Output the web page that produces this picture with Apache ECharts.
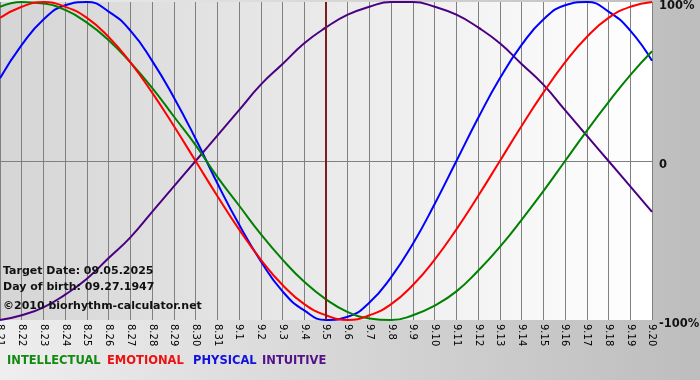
<!DOCTYPE html>
<html><head><meta charset="utf-8">
<script src="https://cdn.jsdelivr.net/npm/echarts@6/dist/echarts.min.js"></script>
<style>html,body{margin:0;padding:0;}#c{width:700px;height:380px;}</style>
</head><body><div id="c"></div>
<script>
var days = ['8.21','8.22','8.23','8.24','8.25','8.26','8.27','8.28','8.29','8.30','8.31','9.1','9.2','9.3','9.4','9.5','9.6','9.7','9.8','9.9','9.10','9.11','9.12','9.13','9.14','9.15','9.16','9.17','9.18','9.19','9.20'];
var intellectual = [0.97,1.00,0.99,0.95,0.87,0.76,0.62,0.46,0.28,0.10,-0.10,-0.28,-0.46,-0.62,-0.76,-0.87,-0.95,-0.99,-1.00,-0.97,-0.91,-0.82,-0.69,-0.54,-0.37,-0.19,0.00,0.19,0.37,0.54,0.69];
var emotional = [0.90,0.97,1.00,0.97,0.90,0.78,0.62,0.43,0.22,0.00,-0.22,-0.43,-0.62,-0.78,-0.90,-0.97,-1.00,-0.97,-0.90,-0.78,-0.62,-0.43,-0.22,0.00,0.22,0.43,0.62,0.78,0.90,0.97,1.00];
var physical = [0.52,0.73,0.89,0.98,1.00,0.94,0.82,0.63,0.40,0.14,-0.14,-0.40,-0.63,-0.82,-0.94,-1.00,-0.98,-0.89,-0.73,-0.52,-0.27,0.00,0.27,0.52,0.73,0.89,0.98,1.00,0.94,0.82,0.63];
var intuitive = [-1.00,-0.97,-0.92,-0.84,-0.74,-0.61,-0.48,-0.32,-0.16,0.00,0.16,0.32,0.48,0.61,0.74,0.84,0.92,0.97,1.00,1.00,0.97,0.92,0.84,0.74,0.61,0.48,0.32,0.16,0.00,-0.16,-0.32];
var targetDay = '9.5';
var infoLines = ['Target Date: 09.05.2025','Day of birth: 09.27.1947','\u00A92010 biorhythm-calculator.net'];
var legendNames = ['INTELLECTUAL','EMOTIONAL','PHYSICAL','INTUITIVE'];
var colors = ['#008000','#ff0000','#0000ff','#4b0082'];
var legendColors = ['#138a13','#ee1111','#1111dd','#551188'];

var chart = echarts.init(document.getElementById('c'));
var ff = '"DejaVu Sans", Verdana, sans-serif';
function mk(name, data, color) {
  return {name: name, type: 'line', data: data, smooth: 0.5, showSymbol: false,
    lineStyle: {color: color, width: 2}, itemStyle: {color: color}, z: 3};
}
var series = [
  mk(legendNames[3], intuitive, colors[3]),
  mk(legendNames[2], physical, colors[2]),
  mk(legendNames[0], intellectual, colors[0]),
  mk(legendNames[1], emotional, colors[1])
];
series[0].markLine = {silent: true, symbol: 'none', label: {show: false},
  lineStyle: {color: '#7d1c1c', width: 2, type: 'solid'}, data: [{xAxis: targetDay}]};

var legendX = [7, 107, 193, 262];
var graphics = [];
infoLines.forEach(function (t, i) {
  graphics.push({type: 'text', left: 3, top: [266, 282, 301][i], z: 100,
    style: {text: t, fill: '#111', font: 'bold 11px ' + ff}});
});
legendNames.forEach(function (t, i) {
  graphics.push({type: 'text', left: legendX[i], top: 355, z: 100,
    style: {text: t, fill: legendColors[i], font: 'bold 11.5px ' + ff}});
});

chart.setOption({
  animation: false,
  backgroundColor: {type: 'linear', x: 0, y: 0, x2: 1, y2: 0,
    colorStops: [{offset: 0, color: '#eeeeee'}, {offset: 1, color: '#bdbdbd'}]},
  grid: {left: 0, right: 48, top: 2, bottom: 60, show: true, borderWidth: 0,
    containLabel: false, outerBoundsMode: 'none',
    backgroundColor: {type: 'linear', x: 0, y: 0, x2: 1, y2: 0,
      colorStops: [{offset: 0, color: '#d5d5d5'}, {offset: 1, color: '#ffffff'}]}},
  xAxis: {type: 'category', data: days, boundaryGap: false,
    axisLine: {show: false},
    axisTick: {show: true, length: 3, lineStyle: {color: '#808080'}},
    splitLine: {show: true, lineStyle: {color: '#808080', width: 1}},
    axisLabel: {rotate: -90, interval: 0, margin: 4, color: '#000', fontSize: 10, fontFamily: ff}},
  yAxis: {type: 'value', position: 'right', min: -1, max: 1, interval: 1,
    axisLine: {show: false}, axisTick: {show: false},
    splitLine: {show: true, lineStyle: {color: ['rgba(0,0,0,0)', '#808080', 'rgba(0,0,0,0)'], width: 1}},
    axisLabel: {margin: 7, color: '#111', fontWeight: 'bold', fontSize: 11.5, fontFamily: ff,
      verticalAlign: 'top', lineHeight: 8,
      formatter: function (v) { return v === 0 ? '0' : (v * 100) + '%'; }}},
  series: series,
  graphic: graphics
});
</script></body></html>
